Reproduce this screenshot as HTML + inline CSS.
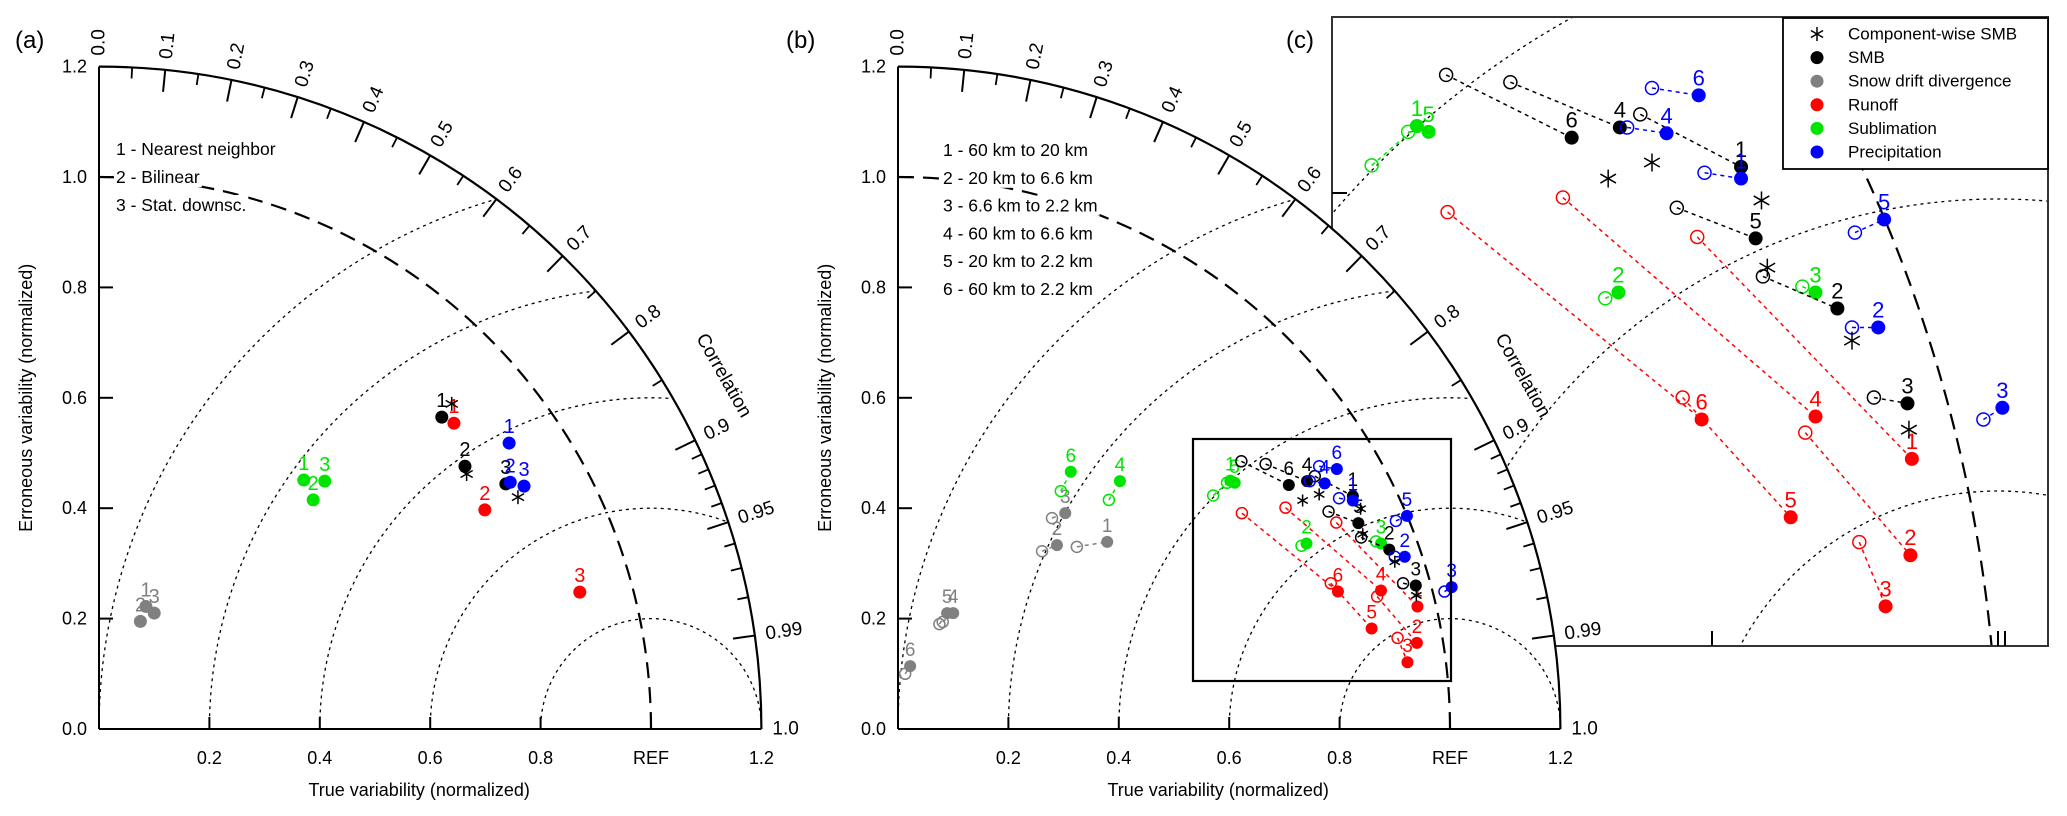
<!DOCTYPE html>
<html><head><meta charset="utf-8"><style>
html,body{margin:0;padding:0;background:#fff;width:2067px;height:816px;overflow:hidden;}
svg{display:block;font-family:"Liberation Sans",Arial,sans-serif;}
</style></head><body>
<svg id="fig" xmlns="http://www.w3.org/2000/svg" width="2067" height="816" viewBox="0 0 2067 816"></svg>
<script>
// ---------- data: panel (a) ----------
const aCats=['1','2','3'];
const aSmbX=[0.621,0.663,0.737], aSmbY=[0.565,0.476,0.444];
const aCompX=[0.639,0.666,0.759], aCompY=[0.589,0.462,0.420];
const aRunX=[0.643,0.699,0.871], aRunY=[0.554,0.397,0.248];
const aSubX=[0.371,0.388,0.409], aSubY=[0.451,0.415,0.449];
const aPrecX=[0.743,0.745,0.770], aPrecY=[0.518,0.447,0.440];
const aDriftX=[0.085,0.075,0.100], aDriftY=[0.222,0.195,0.210];
// ---------- data: panels (b) and (c) ----------
const bCats=['1','2','3','4','5','6'];
const smbX=[0.824,0.890,0.938,0.741,0.834,0.708], smbY=[0.422,0.325,0.260,0.449,0.373,0.442];
const smbOX=[0.755,0.839,0.915,0.666,0.780,0.622], smbOY=[0.458,0.347,0.264,0.480,0.394,0.485];
const compX=[0.838,0.900,0.939,0.763,0.842,0.733], compY=[0.399,0.303,0.242,0.425,0.353,0.414];
const precX=[0.824,0.918,1.003,0.773,0.922,0.795], precY=[0.414,0.312,0.257,0.445,0.386,0.471];
const precOX=[0.799,0.900,0.990,0.746,0.902,0.763], precOY=[0.418,0.312,0.249,0.449,0.377,0.476];
const runX=[0.941,0.940,0.923,0.875,0.858,0.797], runY=[0.222,0.156,0.121,0.251,0.182,0.249];
const runOX=[0.794,0.868,0.905,0.702,0.784,0.623], runOY=[0.374,0.240,0.165,0.401,0.264,0.391];
const subX=[0.602,0.740,0.875,0.402,0.610,0.313], subY=[0.450,0.336,0.336,0.449,0.446,0.466];
const subOX=[0.571,0.731,0.866,0.382,0.596,0.295], subOY=[0.423,0.332,0.340,0.415,0.446,0.431];
const driftX=[0.379,0.288,0.303,0.100,0.089,0.022], driftY=[0.339,0.333,0.391,0.210,0.210,0.114];
const driftOX=[0.324,0.261,0.279,0.081,0.075,0.013], driftOY=[0.330,0.322,0.382,0.194,0.190,0.100];
// ---------- axis labels ----------
const yTickVals=[0,0.2,0.4,0.6,0.8,1.0,1.2], yTickLabels=['0.0','0.2','0.4','0.6','0.8','1.0','1.2'];
const xTickVals=[0.2,0.4,0.6,0.8,1.0,1.2], xTickLabels=['0.2','0.4','0.6','0.8','REF','1.2'];
const corrVals=[0,0.1,0.2,0.3,0.4,0.5,0.6,0.7,0.8,0.9,0.95,0.99,1.0];
const corrLabels=['0.0','0.1','0.2','0.3','0.4','0.5','0.6','0.7','0.8','0.9','0.95','0.99','1.0'];
const corrMinor=[0.05,0.15,0.25,0.35,0.45,0.55,0.65,0.75,0.85,0.91,0.92,0.93,0.94,0.96,0.97,0.98];
const rmsLevels=[0.2,0.4,0.6,0.8,1.0];
const aLegend=['1 - Nearest neighbor','2 - Bilinear','3 - Stat. downsc.'];
const bLegend=['1 - 60 km to 20 km','2 - 20 km to 6.6 km','3 - 6.6 km to 2.2 km','4 - 60 km to 6.6 km','5 - 20 km to 2.2 km','6 - 60 km to 2.2 km'];
const cLegend=['Component-wise SMB','SMB','Snow drift divergence','Runoff','Sublimation','Precipitation'];

const NS='http://www.w3.org/2000/svg';
const svg=document.getElementById('fig');
const COL={smb:'#000000',drift:'#808080',run:'#ff0000',sub:'#00e400',prec:'#0000ff'};
function mk(tag,attrs,parent){const e=document.createElementNS(NS,tag);for(const k in attrs)e.setAttribute(k,attrs[k]);parent.appendChild(e);return e;}
const defs=mk('defs',{},svg);

function axes(ox,oy,S){return {x:v=>ox+v*S,y:v=>oy-v*S};}

function asterisk(g,cx,cy,r){
  const grp=mk('g',{stroke:'#000','stroke-width':1.5},g);
  
  
  [90,30,150].forEach(a=>{const t=a*Math.PI/180;mk('line',{x1:cx-r*Math.cos(t),y1:cy+r*Math.sin(t),x2:cx+r*Math.cos(t),y2:cy-r*Math.sin(t)},grp);});
}

function frame(g,ox,oy,S,id,legend,legX,legY0,legDy){
  const R=1.2*S;
  const quad=`M${ox},${oy} L${ox},${oy-R} A${R},${R} 0 0 1 ${ox+R},${oy} Z`;
  const bg=mk('path',{d:quad,fill:'#fff'},g);
  
  
  const cp=mk('clipPath',{id:id},defs);mk('path',{d:quad},cp);
  const rg=mk('g',{'clip-path':`url(#${id})`},g);
  rmsLevels.forEach(r=>{
    const c=mk('circle',{cx:ox+S,cy:oy,r:r*S,fill:'none',stroke:'#000','stroke-width':1.3,'stroke-dasharray':'3,4'},rg);
    
    
  });
  const ref=mk('path',{d:`M${ox},${oy-S} A${S},${S} 0 0 1 ${ox+S},${oy}`,fill:'none',stroke:'#000','stroke-width':2.2,'stroke-dasharray':'16,9'},g);
  
  
  legend.forEach((t,i)=>{
    const tx=mk('text',{x:legX,y:legY0+i*legDy,'font-size':17.5,'dominant-baseline':'central',fill:'#000'},g);
    tx.textContent=t;
    
    
    const bb=tx.getBBox();
    const r=document.createElementNS(NS,'rect');
    r.setAttribute('x',bb.x-2);r.setAttribute('y',bb.y);r.setAttribute('width',bb.width+4);r.setAttribute('height',bb.height);r.setAttribute('fill','#fff');
    g.insertBefore(r,tx);
  });
  const outer=mk('path',{d:`M${ox},${oy-R} A${R},${R} 0 0 1 ${ox+R},${oy}`,fill:'none',stroke:'#000','stroke-width':2.2},g);
  
  
  const ya=mk('line',{x1:ox,y1:oy,x2:ox,y2:oy-R,stroke:'#000','stroke-width':2},g);
  
  
  const xa=mk('line',{x1:ox,y1:oy,x2:ox+R,y2:oy,stroke:'#000','stroke-width':2},g);
  
  
  yTickVals.forEach((v,i)=>{
    if(v>0&&v<1.2) mk('line',{x1:ox,y1:oy-v*S,x2:ox+14,y2:oy-v*S,stroke:'#000','stroke-width':2},g);
    const t=mk('text',{x:ox-12,y:oy-v*S,'font-size':18,'text-anchor':'end','dominant-baseline':'central'},g);
    t.textContent=yTickLabels[i];
    
    
  });
  xTickVals.forEach((v,i)=>{
    if(v<1.2) mk('line',{x1:ox+v*S,y1:oy,x2:ox+v*S,y2:oy-12,stroke:'#000','stroke-width':2},g);
    const t=mk('text',{x:ox+v*S,y:oy+29,'font-size':18,'text-anchor':'middle','dominant-baseline':'central'},g);
    t.textContent=xTickLabels[i];
    
    
  });
  corrVals.forEach((c,i)=>{
    const th=Math.acos(c);
    if(c>0&&c<1) mk('line',{x1:ox+R*Math.cos(th),y1:oy-R*Math.sin(th),x2:ox+(R-22)*Math.cos(th),y2:oy-(R-22)*Math.sin(th),stroke:'#000','stroke-width':2},g);
    const rr=R+11;
    const lx=ox+rr*Math.cos(th), ly=oy-rr*Math.sin(th);
    const t=mk('text',{x:lx,y:ly,'font-size':19,'dominant-baseline':'central',transform:`rotate(${-th*180/Math.PI} ${lx} ${ly})`},g);
    t.textContent=corrLabels[i];
    
    
  });
  corrMinor.forEach(c=>{
    const th=Math.acos(c);
    mk('line',{x1:ox+R*Math.cos(th),y1:oy-R*Math.sin(th),x2:ox+(R-11)*Math.cos(th),y2:oy-(R-11)*Math.sin(th),stroke:'#000','stroke-width':1.8},g);
  });
  const cth=29.5*Math.PI/180, cr=1.30*S;
  const cx=ox+cr*Math.cos(cth), cy=oy-cr*Math.sin(cth);
  const ct=mk('text',{x:cx,y:cy,'font-size':19,'text-anchor':'middle','dominant-baseline':'central',transform:`rotate(${90-29.5} ${cx} ${cy})`},g);
  ct.textContent='Correlation';
  
  
  const xt=mk('text',{x:ox+0.58*S,y:oy+61,'font-size':18,'text-anchor':'middle','dominant-baseline':'central'},g);
  xt.textContent='True variability (normalized)';
  
  
  const yx=ox-73, yy=oy-0.6*S;
  const yt=mk('text',{x:yx,y:yy,'font-size':18,'text-anchor':'middle','dominant-baseline':'central',transform:`rotate(-90 ${yx} ${yy})`},g);
  yt.textContent='Erroneous variability (normalized)';
  
  
}

function series(g,ax,X,Y,OX,OY,col,cats,r,fs,dy,withLabels){
  for(let i=0;i<X.length;i++){
    if(OX){
      const ln=mk('line',{x1:ax.x(OX[i]),y1:ax.y(OY[i]),x2:ax.x(X[i]),y2:ax.y(Y[i]),stroke:col,'stroke-width':1.5,'stroke-dasharray':'4,4'},g);
      
      
      const oc=mk('circle',{cx:ax.x(OX[i]),cy:ax.y(OY[i]),r:r-0.5,fill:'none',stroke:col,'stroke-width':1.5},g);
      
      
    }
  }
  for(let i=0;i<X.length;i++){
    const c=mk('circle',{cx:ax.x(X[i]),cy:ax.y(Y[i]),r:r,fill:col},g);
    
    
    if(withLabels){
      const t=mk('text',{x:ax.x(X[i]),y:ax.y(Y[i])-dy,'font-size':fs,'text-anchor':'middle',fill:col},g);
      t.textContent=cats[i];
      
      
    }
  }
}
function stars(g,ax,X,Y,r){for(let i=0;i<X.length;i++)asterisk(g,ax.x(X[i]),ax.y(Y[i]),r);}

function panelLabel(x,t){
  const e=mk('text',{x:x,y:48,'font-size':24},svg);
  e.textContent=t;
  
  
}

// ---------- panel (c) ----------
const gc=mk('g',{},svg);


const CB={x:1332,y:17,w:716,h:629};
mk('rect',{x:CB.x,y:CB.y,width:CB.w,height:CB.h,fill:'#fff'},gc);
const ccp=mk('clipPath',{id:'clipC'},defs);mk('rect',{x:CB.x,y:CB.y,width:CB.w,height:CB.h},ccp);
const gcc=mk('g',{'clip-path':'url(#clipC)'},gc);
const cAx=axes(538,783,1460);
rmsLevels.forEach(r=>{
  const c=mk('circle',{cx:cAx.x(1),cy:cAx.y(0),r:r*1460,fill:'none',stroke:'#000','stroke-width':1.3,'stroke-dasharray':'3,4'},gcc);
  
  
});
const cref=mk('circle',{cx:cAx.x(0),cy:cAx.y(0),r:1460,fill:'none',stroke:'#000','stroke-width':2.2,'stroke-dasharray':'16,9'},gcc);


series(gcc,cAx,runX,runY,runOX,runOY,COL.run,bCats,7,22,10,true);
series(gcc,cAx,subX,subY,subOX,subOY,COL.sub,bCats,7,22,10,true);
series(gcc,cAx,smbX,smbY,smbOX,smbOY,COL.smb,bCats,7,22,10,true);
series(gcc,cAx,precX,precY,precOX,precOY,COL.prec,bCats,7,22,10,true);
series(gcc,cAx,driftX,driftY,driftOX,driftOY,COL.drift,bCats,7,22,10,true);
stars(gcc,cAx,compX,compY,9);
const cbox=mk('rect',{x:CB.x,y:CB.y,width:CB.w,height:CB.h,fill:'none',stroke:'#333','stroke-width':2},gc);


[[1712],[1998],[2005]].forEach(p=>mk('line',{x1:p[0],y1:646,x2:p[0],y2:631,stroke:'#000','stroke-width':2},gc));
mk('line',{x1:1332,y1:193,x2:1347,y2:193,stroke:'#000','stroke-width':2},gc);
const lg=mk('g',{},gc);


mk('rect',{x:1783,y:18,width:265,height:151,fill:'#fff',stroke:'#000','stroke-width':1.8},lg);
const legCols=[null,COL.smb,COL.drift,COL.run,COL.sub,COL.prec];
cLegend.forEach((t,i)=>{
  const yy=34+i*23.6;
  if(i===0) asterisk(lg,1817,yy,7); else mk('circle',{cx:1817,cy:yy,r:6.5,fill:legCols[i]},lg);
  const tx=mk('text',{x:1848,y:yy,'font-size':17,'dominant-baseline':'central'},lg);
  tx.textContent=t;
  
  
});

// ---------- panel (a) ----------
const ga=mk('g',{},svg);


frame(ga,99,729,552,'clipA',aLegend,116,149,28);
const aAx=axes(99,729,552);
series(ga,aAx,aDriftX,aDriftY,null,null,COL.drift,aCats,6.5,20,10,true);
series(ga,aAx,aSubX,aSubY,null,null,COL.sub,aCats,6.5,20,10,true);
series(ga,aAx,aRunX,aRunY,null,null,COL.run,aCats,6.5,20,10,true);
series(ga,aAx,aSmbX,aSmbY,null,null,COL.smb,aCats,6.5,20,10,true);
series(ga,aAx,aPrecX,aPrecY,null,null,COL.prec,aCats,6.5,20,10,true);
stars(ga,aAx,aCompX,aCompY,7);

// ---------- panel (b) ----------
const gb=mk('g',{},svg);


frame(gb,898,729,552,'clipB',bLegend,943,150,27.8);
const bAx=axes(898,729,552);
series(gb,bAx,driftX,driftY,driftOX,driftOY,COL.drift,bCats,6,19,10,true);
series(gb,bAx,subX,subY,subOX,subOY,COL.sub,bCats,6,19,10,true);
series(gb,bAx,runX,runY,runOX,runOY,COL.run,bCats,6,19,10,true);
series(gb,bAx,smbX,smbY,smbOX,smbOY,COL.smb,bCats,6,19,10,true);
series(gb,bAx,precX,precY,precOX,precOY,COL.prec,bCats,6,19,10,true);
stars(gb,bAx,compX,compY,6);
const inset=mk('rect',{x:1193,y:439,width:258,height:242,fill:'none',stroke:'#000','stroke-width':2.2},gb);



panelLabel(15,'(a)');
panelLabel(786,'(b)');
panelLabel(1286,'(c)');
</script>
</body></html>
